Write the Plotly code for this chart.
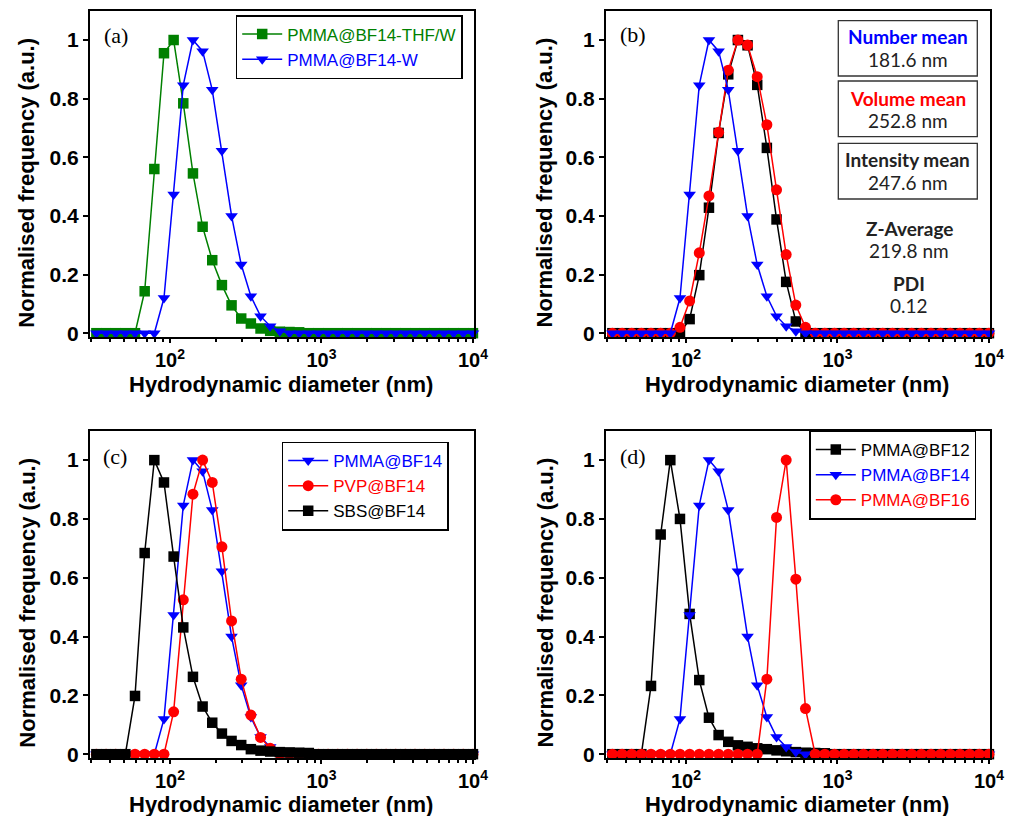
import plotly.graph_objects as go

# ---------------- data ----------------
diameter_nm = [32.67, 37.84, 43.82, 50.75, 58.77, 68.06, 78.82, 91.28, 105.7, 122.4,
               141.8, 164.2, 190.1, 220.2, 255.0, 295.3, 342.0, 396.1, 458.7, 531.2,
               615.1, 712.4, 825.0, 955.4, 1106, 1281, 1484, 1718, 1990, 2305,
               2669, 3091, 3580, 4145, 4801, 5560, 6439, 7456, 8635, 10000]

# (a)
pmma_bf14_thf_w = [0, 0, 0, 0, 0, 0.143, 0.56, 0.955, 1.0, 0.784,
                   0.545, 0.363, 0.249, 0.164, 0.095, 0.05, 0.033, 0.016, 0.008, 0.005,
                   0.004, 0.003, 0, 0, 0, 0, 0, 0, 0, 0,
                   0, 0, 0, 0, 0, 0, 0, 0, 0, 0]
pmma_bf14 = [0, 0, 0, 0, 0, 0, 0, 0.12, 0.473, 0.846,
             1.0, 0.962, 0.83, 0.622, 0.40, 0.234, 0.126, 0.058, 0.024, 0.007,
             0, 0, 0, 0, 0, 0, 0, 0, 0, 0,
             0, 0, 0, 0, 0, 0, 0, 0, 0, 0]
# (b)
intensity_dist = [0, 0, 0, 0, 0, 0, 0, 0, 0.048, 0.198,
                  0.428, 0.683, 0.883, 1.0, 0.982, 0.847, 0.632, 0.388, 0.175, 0.04,
                  0, 0, 0, 0, 0, 0, 0, 0, 0, 0,
                  0, 0, 0, 0, 0, 0, 0, 0, 0, 0]
volume_dist = [0, 0, 0, 0, 0, 0, 0, 0.02, 0.11, 0.274,
               0.468, 0.685, 0.897, 1.0, 0.983, 0.875, 0.711, 0.489, 0.268, 0.096,
               0.02, 0, 0, 0, 0, 0, 0, 0, 0, 0,
               0, 0, 0, 0, 0, 0, 0, 0, 0, 0]
number_dist = pmma_bf14
# (c)
pvp_bf14 = [0, 0, 0, 0, 0, 0, 0, 0, 0.144, 0.525,
            0.884, 1.0, 0.924, 0.705, 0.453, 0.255, 0.133, 0.057, 0.02, 0,
            0, 0, 0, 0, 0, 0, 0, 0, 0, 0,
            0, 0, 0, 0, 0, 0, 0, 0, 0, 0]
sbs_bf14 = [0, 0, 0, 0, 0.198, 0.684, 1.0, 0.924, 0.672, 0.431,
            0.263, 0.162, 0.107, 0.07, 0.045, 0.031, 0.017, 0.012, 0.009, 0.007,
            0.006, 0.005, 0.004, 0, 0, 0, 0, 0, 0, 0,
            0, 0, 0, 0, 0, 0, 0, 0, 0, 0]
# (d)
pmma_bf12 = [0, 0, 0, 0, 0.232, 0.747, 1.0, 0.80, 0.477, 0.252,
             0.124, 0.065, 0.042, 0.03, 0.025, 0.02, 0.017, 0.013, 0.01, 0.007,
             0.005, 0.004, 0.003, 0, 0, 0, 0, 0, 0, 0,
             0, 0, 0, 0, 0, 0, 0, 0, 0, 0]
pmma_bf16 = [0, 0, 0, 0, 0, 0, 0, 0, 0, 0,
             0, 0, 0, 0, 0, 0, 0.255, 0.805, 1.0, 0.595,
             0.155, 0, 0, 0, 0, 0, 0, 0, 0, 0,
             0, 0, 0, 0, 0, 0, 0, 0, 0, 0]

x_tick_vals = [100, 1000, 10000]
x_tick_text = ["10<sup>2</sup>", "10<sup>3</sup>", "10<sup>4</sup>"]
x_minor_vals = [30, 40, 50, 60, 70, 80, 90, 200, 300, 400, 500, 600, 700, 800, 900,
                2000, 3000, 4000, 5000, 6000, 7000, 8000, 9000]
y_tick_vals = [0, 0.2, 0.4, 0.6, 0.8, 1.0]
y_tick_text = ["0", "0.2", "0.4", "0.6", "0.8", "1"]
panel_labels = ["(a)", "(b)", "(c)", "(d)"]
x_title = "Hydrodynamic diameter (nm)"
y_title = "Normalised frequency (a.u.)"

GREEN, BLUE, RED, BLACK = "#008000", "#0000FF", "#FF0000", "#000000"
W, H = 1016, 816


def px(x):
    return x / W


def py(y):
    return 1 - y / H


fig = go.Figure()


def add(y, name, color, symbol, ax, legend=None, size=11):
    fig.add_trace(go.Scatter(
        x=diameter_nm, y=y, mode="lines+markers",
        name=f'<span style="color:{color}">{name}</span>',
        line=dict(color=color, width=1.5),
        marker=dict(symbol=symbol, size=size, color=color),
        xaxis="x" + ax, yaxis="y" + ax, cliponaxis=False,
        showlegend=legend is not None, legend=legend or "legend"))


# (a)
add(pmma_bf14_thf_w, "PMMA@BF14-THF/W", GREEN, "square", "", "legend", 10.5)
add(pmma_bf14, "PMMA@BF14-W", BLUE, "triangle-down", "", "legend")
# (b)
add(intensity_dist, "Intensity", BLACK, "square", "2", None, 10.5)
add(volume_dist, "Volume", RED, "circle", "2")
add(number_dist, "Number", BLUE, "triangle-down", "2")
# (c)
add(pmma_bf14, "PMMA@BF14", BLUE, "triangle-down", "3", "legend2")
add(pvp_bf14, "PVP@BF14", RED, "circle", "3", "legend2")
add(sbs_bf14, "SBS@BF14", BLACK, "square", "3", "legend2", 10.5)
# (d)
add(pmma_bf12, "PMMA@BF12", BLACK, "square", "4", "legend3", 10.5)
add(pmma_bf14, "PMMA@BF14", BLUE, "triangle-down", "4", "legend3")
add(pmma_bf16, "PMMA@BF16", RED, "circle", "4", "legend3")

axis_font = dict(family="Liberation Sans", size=21, color="black", weight="bold")
xtick_font = dict(family="Liberation Sans", size=20, color="black", weight="bold")
title_font = dict(family="Liberation Sans", size=22, color="black", weight="bold")

domains_x = [(90, 474), (606, 990), (90, 474), (606, 990)]
domains_y = [(10.7, 337), (10.7, 337), (430.7, 758), (430.7, 758)]
layout = {}
for i in range(4):
    s = "" if i == 0 else str(i + 1)
    layout["xaxis" + s] = dict(
        type="log", range=[1.472, 4.007],
        domain=[px(domains_x[i][0]), px(domains_x[i][1])],
        anchor="y" + s, automargin=False,
        tickvals=x_tick_vals, ticktext=x_tick_text,
        ticks="outside", ticklen=4, tickwidth=2, tickcolor="black",
        minor=dict(tickvals=x_minor_vals, ticks="outside", ticklen=3,
                   tickwidth=1.5, tickcolor="black"),
        showline=True, linewidth=2, linecolor="black", mirror=True,
        showgrid=False, zeroline=False, tickfont=xtick_font,
    )
    layout["yaxis" + s] = dict(
        range=[-0.013, 1.1],
        domain=[py(domains_y[i][1]), py(domains_y[i][0])],
        anchor="x" + s, automargin=False,
        tickvals=y_tick_vals, ticktext=y_tick_text,
        ticks="outside", ticklen=5, tickwidth=2, tickcolor="black",
        showline=True, linewidth=2, linecolor="black", mirror=True,
        showgrid=False, zeroline=False, tickfont=axis_font,
    )

leg_common = dict(bgcolor="white", bordercolor="black", borderwidth=1.5,
                  font=dict(family="Liberation Sans", size=17),
                  xanchor="left", yanchor="middle", itemwidth=40,
                  tracegroupgap=0)
layout["legend"] = dict(x=px(235.7), y=py(47), **leg_common)
layout["legend2"] = dict(x=px(281.7), y=py(486), **leg_common)
layout["legend3"] = dict(x=px(809.3), y=py(475), **leg_common)

annotations = []
# axis titles
xt_pos = [(281, 384), (797, 384), (281, 804), (797, 804)]
yt_pos = [(26.7, 183), (544.5, 183), (26.7, 603), (544.5, 603)]
for (xx, xy), (yx, yy) in zip(xt_pos, yt_pos):
    annotations.append(dict(text=x_title, x=px(xx), y=py(xy), xref="paper", yref="paper",
                            showarrow=False, xanchor="center", yanchor="middle",
                            borderpad=0, font=title_font))
    annotations.append(dict(text=y_title, x=px(yx), y=py(yy), xref="paper", yref="paper",
                            showarrow=False, xanchor="center", yanchor="middle",
                            borderpad=0, textangle=-90, font=title_font))

label_pos = [(115.5, 36), (633, 35), (115, 456), (633, 456)]
for lab, (lx, ly) in zip(panel_labels, label_pos):
    annotations.append(dict(text=lab, x=px(lx), y=py(ly), xref="paper", yref="paper",
                            showarrow=False, xanchor="center", yanchor="middle",
                            font=dict(family="Liberation Serif", size=22, color="black")))

stat_font = "Lato"
stats = [
    ("Number mean", BLUE, True, 907.8, 36.7),
    ("181.6 nm", "#222222", False, 907.8, 60),
    ("Volume mean", RED, True, 907.8, 98.3),
    ("252.8 nm", "#222222", False, 907.8, 120.7),
    ("Intensity mean", "#222222", True, 907.8, 160),
    ("247.6 nm", "#222222", False, 907.8, 182.7),
    ("Z-Average", "#222222", True, 909.3, 228.3),
    ("219.8 nm", "#222222", False, 909.3, 250),
    ("PDI", "#222222", True, 909.3, 283.3),
    ("0.12", "#222222", False, 909.3, 305),
]
for text, col, bold, sx, sy in stats:
    annotations.append(dict(text=text, x=px(sx), y=py(sy), xref="paper", yref="paper",
                            showarrow=False, xanchor="center", yanchor="middle",
                            font=dict(family=stat_font, size=19, color=col,
                                      weight="bold" if bold else "normal")))

shapes = []
for (y0, y1) in [(20.7, 76), (81, 136.7), (143.3, 199)]:
    shapes.append(dict(type="rect", xref="paper", yref="paper",
                       x0=px(838.3), x1=px(977.3), y0=py(y1), y1=py(y0),
                       line=dict(color="#333333", width=1.3)))

fig.update_layout(**layout)
fig.update_layout(width=W, height=H, margin=dict(l=0, r=0, t=0, b=0, autoexpand=False),
                  paper_bgcolor="white", plot_bgcolor="white",
                  annotations=annotations, shapes=shapes,
                  font=dict(family="Liberation Sans", color="black"))

fig.write_html(
    "out.html",
    config={"displayModeBar": False},
    post_script="document.body.style.margin='0px';document.body.style.overflow='hidden';",
)
